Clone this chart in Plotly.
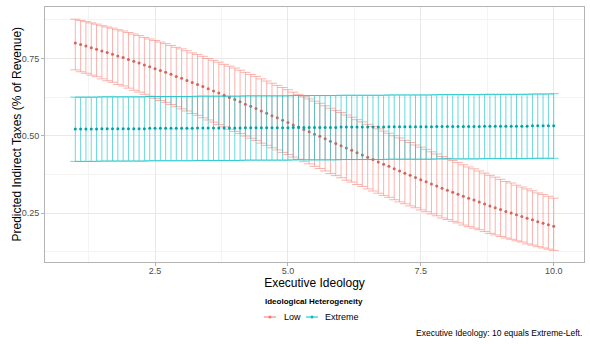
import plotly.graph_objects as go

# ---------------- data ----------------
executive_ideology = [round(1 + 0.1 * i, 1) for i in range(91)]

low_mean = [
    0.800, 0.795, 0.790, 0.785, 0.780, 0.774, 0.769, 0.764, 0.758, 0.753,
    0.747, 0.741, 0.735, 0.729, 0.723, 0.717, 0.711, 0.705, 0.699, 0.692,
    0.686, 0.679, 0.672, 0.666, 0.659, 0.652, 0.645, 0.638, 0.631, 0.624,
    0.617, 0.610, 0.602, 0.595, 0.588, 0.580, 0.573, 0.565, 0.558, 0.550,
    0.543, 0.535, 0.528, 0.520, 0.513, 0.505, 0.498, 0.490, 0.482, 0.475,
    0.468, 0.460, 0.453, 0.445, 0.438, 0.430, 0.423, 0.415, 0.408, 0.401,
    0.393, 0.386, 0.379, 0.372, 0.365, 0.358, 0.351, 0.344, 0.337, 0.330,
    0.324, 0.317, 0.311, 0.304, 0.298, 0.292, 0.286, 0.279, 0.273, 0.267,
    0.261, 0.255, 0.250, 0.244, 0.239, 0.233, 0.228, 0.222, 0.217, 0.212,
    0.207,
]
low_upper = [
    0.877, 0.873, 0.869, 0.865, 0.861, 0.856, 0.852, 0.848, 0.843, 0.839,
    0.834, 0.829, 0.824, 0.818, 0.813, 0.808, 0.803, 0.798, 0.792, 0.786,
    0.781, 0.775, 0.768, 0.763, 0.757, 0.750, 0.744, 0.738, 0.731, 0.725,
    0.719, 0.712, 0.705, 0.698, 0.692, 0.684, 0.677, 0.670, 0.663, 0.656,
    0.649, 0.641, 0.634, 0.626, 0.619, 0.612, 0.605, 0.597, 0.589, 0.582,
    0.575, 0.567, 0.560, 0.552, 0.545, 0.537, 0.530, 0.522, 0.515, 0.508,
    0.500, 0.493, 0.485, 0.478, 0.470, 0.463, 0.456, 0.448, 0.441, 0.433,
    0.427, 0.420, 0.413, 0.406, 0.399, 0.393, 0.386, 0.379, 0.372, 0.366,
    0.359, 0.352, 0.347, 0.340, 0.334, 0.328, 0.322, 0.315, 0.310, 0.304,
    0.298,
]
low_lower = [
    0.713, 0.707, 0.702, 0.696, 0.691, 0.684, 0.678, 0.673, 0.666, 0.661,
    0.654, 0.647, 0.641, 0.634, 0.628, 0.621, 0.614, 0.608, 0.601, 0.594,
    0.587, 0.580, 0.572, 0.566, 0.558, 0.551, 0.544, 0.536, 0.529, 0.521,
    0.514, 0.507, 0.499, 0.492, 0.485, 0.476, 0.469, 0.461, 0.454, 0.446,
    0.439, 0.431, 0.424, 0.416, 0.409, 0.401, 0.394, 0.386, 0.378, 0.371,
    0.364, 0.356, 0.350, 0.342, 0.336, 0.328, 0.321, 0.314, 0.307, 0.301,
    0.293, 0.286, 0.280, 0.273, 0.267, 0.260, 0.254, 0.247, 0.241, 0.234,
    0.229, 0.223, 0.218, 0.211, 0.206, 0.201, 0.196, 0.190, 0.184, 0.179,
    0.174, 0.169, 0.165, 0.160, 0.156, 0.150, 0.146, 0.141, 0.137, 0.133,
    0.129,
]

extreme_mean = [
    0.522, 0.522, 0.522, 0.522, 0.522, 0.523, 0.523, 0.523, 0.523, 0.523,
    0.523, 0.523, 0.523, 0.523, 0.524, 0.524, 0.524, 0.524, 0.524, 0.524,
    0.524, 0.524, 0.524, 0.525, 0.525, 0.525, 0.525, 0.525, 0.525, 0.525,
    0.525, 0.525, 0.526, 0.526, 0.526, 0.526, 0.526, 0.526, 0.526, 0.526,
    0.526, 0.527, 0.527, 0.527, 0.527, 0.527, 0.527, 0.527, 0.527, 0.527,
    0.528, 0.528, 0.528, 0.528, 0.528, 0.528, 0.528, 0.528, 0.528, 0.529,
    0.529, 0.529, 0.529, 0.529, 0.529, 0.529, 0.529, 0.529, 0.530, 0.530,
    0.530, 0.530, 0.530, 0.530, 0.530, 0.530, 0.530, 0.531, 0.531, 0.531,
    0.531, 0.531, 0.531, 0.531, 0.531, 0.531, 0.532, 0.532, 0.532, 0.532,
    0.532,
]
extreme_upper = [
    0.625, 0.625, 0.625, 0.625, 0.625, 0.626, 0.626, 0.626, 0.626, 0.626,
    0.626, 0.626, 0.626, 0.626, 0.627, 0.627, 0.627, 0.627, 0.627, 0.627,
    0.627, 0.627, 0.627, 0.628, 0.628, 0.628, 0.628, 0.628, 0.628, 0.628,
    0.628, 0.628, 0.629, 0.629, 0.629, 0.629, 0.629, 0.629, 0.629, 0.629,
    0.629, 0.630, 0.630, 0.630, 0.630, 0.630, 0.630, 0.630, 0.630, 0.630,
    0.631, 0.631, 0.631, 0.631, 0.631, 0.631, 0.631, 0.631, 0.631, 0.632,
    0.632, 0.632, 0.632, 0.632, 0.632, 0.632, 0.632, 0.632, 0.633, 0.633,
    0.633, 0.633, 0.633, 0.633, 0.633, 0.633, 0.633, 0.634, 0.634, 0.634,
    0.634, 0.634, 0.634, 0.634, 0.634, 0.634, 0.635, 0.635, 0.635, 0.635,
    0.636,
]
extreme_lower = [
    0.417, 0.417, 0.417, 0.417, 0.417, 0.418, 0.418, 0.418, 0.418, 0.418,
    0.418, 0.418, 0.418, 0.418, 0.419, 0.419, 0.419, 0.419, 0.419, 0.419,
    0.419, 0.419, 0.419, 0.420, 0.420, 0.420, 0.420, 0.420, 0.420, 0.420,
    0.420, 0.420, 0.421, 0.421, 0.421, 0.421, 0.421, 0.421, 0.421, 0.421,
    0.421, 0.422, 0.422, 0.422, 0.422, 0.422, 0.422, 0.422, 0.422, 0.422,
    0.423, 0.423, 0.423, 0.423, 0.423, 0.423, 0.423, 0.423, 0.423, 0.424,
    0.424, 0.424, 0.424, 0.424, 0.424, 0.424, 0.424, 0.424, 0.425, 0.425,
    0.425, 0.425, 0.425, 0.425, 0.425, 0.425, 0.425, 0.426, 0.426, 0.426,
    0.426, 0.426, 0.426, 0.426, 0.426, 0.426, 0.427, 0.427, 0.427, 0.427,
    0.427,
]

group_names = ["Low", "Extreme"]
x_tick_labels = ["2.5", "5.0", "7.5", "10.0"]
y_tick_labels = ["0.25", "0.50", "0.75"]

# ---------------- styling ----------------
FONT = "Liberation Sans, Arial, sans-serif"
colors = {"Low": "#F8766D", "Extreme": "#00BFC4"}
bar_colors = {"Low": "rgba(248,118,109,0.8)", "Extreme": "rgba(0,191,196,0.85)"}
dot_colors = {"Low": "#d9625a", "Extreme": "#00a3a8"}

series = {
    "Low": (low_mean, low_upper, low_lower),
    "Extreme": (extreme_mean, extreme_upper, extreme_lower),
}

fig = go.Figure()
for name in group_names:
    m, up, lo = series[name]
    fig.add_trace(go.Scatter(
        x=executive_ideology, y=m, mode="markers", name=name,
        marker=dict(size=3, color=dot_colors[name]),
        error_y=dict(type="data", symmetric=False,
                     array=[u - v for u, v in zip(up, m)],
                     arrayminus=[v - l for v, l in zip(m, lo)],
                     width=5, thickness=0.7, color=bar_colors[name]),
        showlegend=False, hoverinfo="skip",
    ))

# plot-area geometry (px) used for placing the hand-built legend/texts
L, R, T, B = 45, 6, 7, 82
W, H = 590, 344
pw, ph = W - L - R, H - T - B


def px_x(px):
    return (px - L) / pw


def px_y(py):
    return (H - B - py) / ph


shapes = []
annotations = []

# legend title
annotations.append(dict(
    text="<b>Ideological Heterogeneity</b>", xref="paper", yref="paper",
    x=px_x(314), y=px_y(301), xanchor="center", yanchor="middle",
    showarrow=False, font=dict(family=FONT, size=8, color="black"),
))
legend_layout = {"Low": (270, 282), "Extreme": (312, 323)}
for name in group_names:
    cx, tx = legend_layout[name]
    shapes.append(dict(
        type="line", xref="paper", yref="paper", xsizemode="pixel",
        ysizemode="pixel", xanchor=px_x(cx), yanchor=px_y(317),
        x0=-6, x1=6, y0=0, y1=0, line=dict(color=colors[name], width=1),
    ))
    shapes.append(dict(
        type="circle", xref="paper", yref="paper", xsizemode="pixel",
        ysizemode="pixel", xanchor=px_x(cx), yanchor=px_y(317),
        x0=-1.5, x1=1.5, y0=-1.5, y1=1.5,
        fillcolor=colors[name], line=dict(color=colors[name], width=0),
    ))
    annotations.append(dict(
        text=name, xref="paper", yref="paper", x=px_x(tx), y=px_y(317),
        xanchor="left", yanchor="middle", showarrow=False,
        font=dict(family=FONT, size=9, color="black"),
    ))

# y-axis title
annotations.append(dict(
    text="Predicted Indirect Taxes (% of Revenue)", xref="paper", yref="paper",
    x=px_x(16), y=0.5, xanchor="center", yanchor="middle", textangle=-90,
    showarrow=False, font=dict(family=FONT, size=12, color="black"),
))
# caption
annotations.append(dict(
    text="Executive Ideology: 10 equals Extreme-Left.",
    xref="paper", yref="paper", x=1.0, y=px_y(333),
    xanchor="right", yanchor="middle", showarrow=False,
    font=dict(family=FONT, size=8.5, color="black"),
))

axis_common = dict(
    showline=True, linecolor="#b3b3b3", linewidth=1, mirror=True,
    showgrid=True, gridcolor="#e8e8e8", gridwidth=0.6,
    ticks="outside", ticklen=3, tickcolor="#b3b3b3", tickwidth=0.8,
    tickfont=dict(family=FONT, size=9, color="#4d4d4d"),
    zeroline=False, automargin=False,
)

fig.update_layout(
    width=W, height=H,
    margin=dict(l=L, r=R, t=T, b=B),
    paper_bgcolor="white", plot_bgcolor="white",
    font=dict(family=FONT, color="black"),
    showlegend=False,
    xaxis=dict(
        range=[0.43, 10.57],
        tickvals=[2.5, 5.0, 7.5, 10.0], ticktext=x_tick_labels,
        minor=dict(tickvals=[1.25, 3.75, 6.25, 8.75], showgrid=True,
                   gridcolor="#f4f4f4", gridwidth=0.5, ticks=""),
        title=dict(text="Executive Ideology", font=dict(family=FONT, size=12),
                   standoff=1),
        ticklabelstandoff=-3,
        **axis_common,
    ),
    yaxis=dict(
        range=[0.0915, 0.9165],
        tickvals=[0.25, 0.50, 0.75], ticktext=y_tick_labels,
        minor=dict(tickvals=[0.125, 0.375, 0.625, 0.875], showgrid=True,
                   gridcolor="#f4f4f4", gridwidth=0.5, ticks=""),
        **axis_common,
    ),
    shapes=shapes,
    annotations=annotations,
)

fig.write_html(
    "out.html",
    config={"displayModeBar": False},
    post_script="document.body.style.margin='0';document.body.style.padding='0';",
)
